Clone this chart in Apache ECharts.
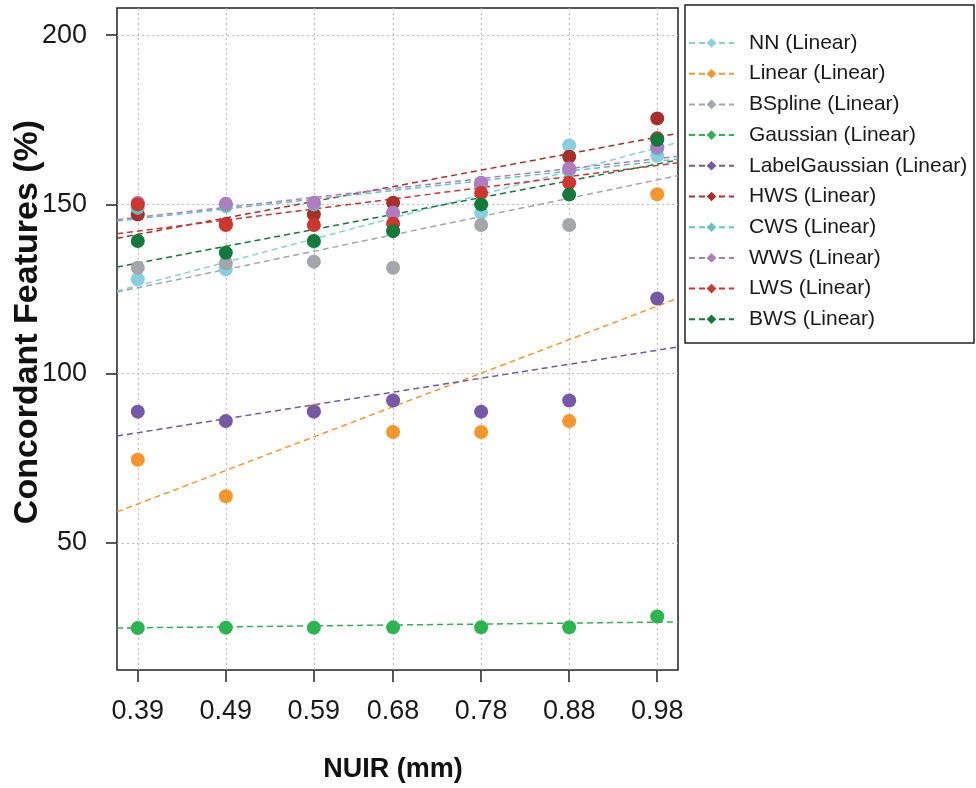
<!DOCTYPE html>
<html>
<head>
<meta charset="utf-8">
<script src="https://cdn.jsdelivr.net/npm/echarts@6/dist/echarts.min.js"></script>
<style>
html,body{margin:0;padding:0;background:#fff;}
#c{width:976px;height:788px;}
</style>
</head>
<body>
<div id="c"></div>
<script>
// ---- data ----
const xValues = [0.39, 0.49, 0.59, 0.68, 0.78, 0.88, 0.98];
const xTickLabels = ['0.39', '0.49', '0.59', '0.68', '0.78', '0.88', '0.98'];
const yTicks = [50, 100, 150, 200];
const xExtent = [0.3664, 1.0036];
const yExtent = [12.5, 208];

const methods = ['NN', 'Linear', 'BSpline', 'Gaussian', 'LabelGaussian', 'HWS', 'CWS', 'WWS', 'LWS', 'BWS'];
const colors = ['#86d0e0', '#f7962a', '#a3a6aa', '#2bb54e', '#7558a8', '#a8302a', '#5ec6c0', '#b07cc0', '#d0352e', '#127a3a'];

const nn            = [127.9, 130.8, 139.0, 147.0, 147.5, 167.4, 164.4];
const linear        = [74.6, 63.8, 89.0, 82.8, 82.8, 86.0, 153.0];
const bspline       = [131.3, 132.6, 133.1, 131.3, 143.9, 143.9, 169.5];
const gaussian      = [24.9, 25.0, 25.0, 25.1, 25.1, 25.1, 28.3];
const labelGaussian = [88.8, 86.0, 88.8, 92.1, 88.8, 92.1, 122.2];
const hws           = [147.0, 144.2, 147.0, 150.5, 156.0, 164.1, 175.4];
const cws           = [149.0, 149.5, 150.0, 147.5, 156.0, 160.0, 166.5];
const wws           = [150.5, 150.2, 150.5, 147.5, 156.4, 160.6, 166.9];
const lws           = [150.0, 143.9, 143.9, 144.3, 153.4, 156.4, 169.5];
const bws           = [139.2, 135.7, 139.2, 142.1, 150.0, 152.9, 169.1];

// linear-fit lines: value at left and right edge of the x extent
const trendAtMin = [124.4, 59.2, 124.1, 24.9, 81.6, 140.0, 145.1, 145.5, 141.3, 131.5];
const trendAtMax = [168.3, 122.3, 158.5, 26.7, 107.9, 171.0, 163.4, 164.2, 162.3, 163.1];

const allValues = [nn, linear, bspline, gaussian, labelGaussian, hws, cws, wws, lws, bws];
// ---------------------------------------

const sans = "'Liberation Sans', Arial, sans-serif";
const labelName = m => m + ' (Linear)';

const series = [];
// grid lines (dotted) at tick values
series.push({
  type: 'line', name: '__grid', data: [], z: 1, silent: true,
  markLine: {
    silent: true, symbol: 'none', animation: false, z: 0,
    label: {show: false},
    lineStyle: {color: '#bdbdbd', type: [2, 3], width: 1.2},
    data: xValues.map(v => ({xAxis: v})).concat(yTicks.map(v => ({yAxis: v})))
  }
});
methods.forEach((m, i) => {
  series.push({
    type: 'line', name: labelName(m), symbol: 'diamond', showSymbol: false,
    data: [[xExtent[0], trendAtMin[i]], [xExtent[1], trendAtMax[i]]],
    lineStyle: {color: colors[i], width: 1.5, type: [6, 4]},
    itemStyle: {color: colors[i]},
    z: 2, animation: false, silent: true
  });
});
methods.forEach((m, i) => {
  series.push({
    type: 'scatter', name: labelName(m), symbol: 'circle', symbolSize: 14,
    data: xValues.map((x, k) => [x, allValues[i][k]]),
    itemStyle: {color: colors[i], opacity: 1},
    z: 3, animation: false
  });
});

const chart = echarts.init(document.getElementById('c'), null, {renderer: 'canvas'});
chart.setOption({
  backgroundColor: '#fff',
  animation: false,
  grid: {left: 117, right: 298, top: 8, bottom: 118, show: true, borderColor: '#222', borderWidth: 1.5, backgroundColor: 'transparent'},
  xAxis: {
    type: 'value', min: xExtent[0], max: xExtent[1],
    axisLine: {show: false},
    splitLine: {show: false},
    axisTick: {show: true, customValues: xValues, length: 12, lineStyle: {color: '#222', width: 1.5}},
    axisLabel: {
      customValues: xValues, margin: 28, color: '#1a1a1a', fontSize: 27, fontFamily: sans,
      formatter: v => xTickLabels[xValues.indexOf(v)]
    }
  },
  yAxis: {
    type: 'value', min: yExtent[0], max: yExtent[1],
    axisLine: {show: false},
    splitLine: {show: false},
    axisTick: {show: true, customValues: yTicks, length: 11, lineStyle: {color: '#222', width: 1.5}},
    axisLabel: {customValues: yTicks, margin: 30, color: '#1a1a1a', fontSize: 27, fontFamily: sans}
  },
  legend: {
    orient: 'vertical', left: 688, top: 31, padding: 0,
    itemWidth: 45, itemHeight: 12, itemGap: 6.7,
    data: methods.map(labelName),
    textStyle: {fontFamily: sans, fontSize: 21, lineHeight: 24, color: '#1a1a1a', padding: [0, 0, 0, 10]},
    selectedMode: false
  },
  graphic: [
    {type: 'rect', shape: {x: 685, y: 5, width: 289, height: 338}, style: {fill: 'none', stroke: '#222', lineWidth: 1.5}, silent: true},
    {type: 'text', x: 393, y: 770, style: {text: 'NUIR (mm)', font: "bold 27px 'Liberation Sans', Arial, sans-serif", fill: '#111', align: 'center', verticalAlign: 'middle'}},
    {type: 'text', x: 28, y: 322, rotation: Math.PI / 2, style: {text: 'Concordant Features (%)', font: "bold 34px 'Liberation Sans', Arial, sans-serif", fill: '#111', align: 'center', verticalAlign: 'middle'}}
  ],
  series: series
});
</script>
</body>
</html>
